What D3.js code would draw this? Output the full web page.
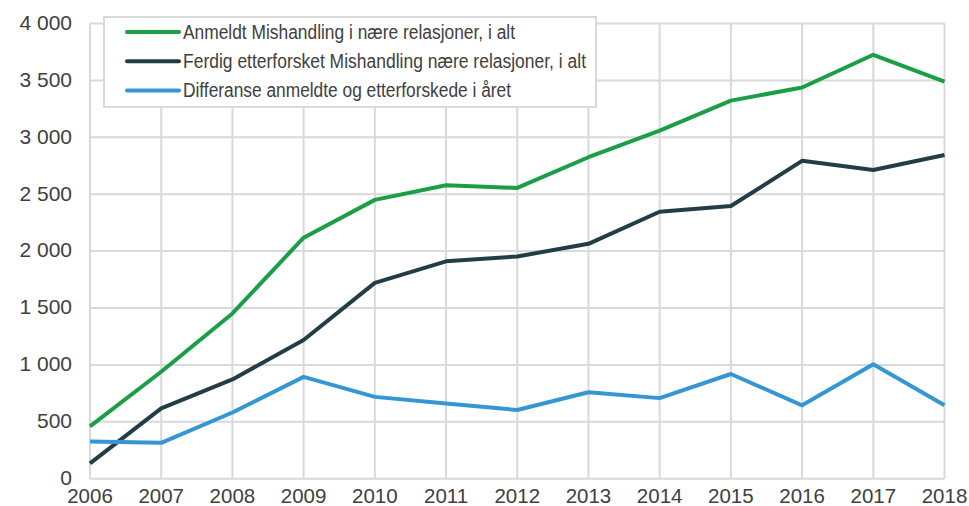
<!DOCTYPE html>
<html>
<head>
  <meta charset="utf-8">
  <title>Mishandling i nære relasjoner</title>
  <style type="text/css">
    body { margin: 0; background: #fff; }
    svg { display: block; font-family: "Liberation Sans", Arial, sans-serif; }
    .grid line { stroke: #d9d9d9; stroke-width: 2px; }
    .tick-label { fill: #404040; font-size: 21px; }
    .tick-label.xl { font-size: 20.5px; }
    .legend text { fill: #404040; font-size: 19.5px; }
  </style>
  <script src="https://cdn.jsdelivr.net/npm/d3@7"></script>
</head>
<body>
  <script>
    var years = [2006, 2007, 2008, 2009, 2010, 2011, 2012, 2013, 2014, 2015, 2016, 2017, 2018];
    var anmeldt = [460, 940, 1452, 2118, 2450, 2578, 2555, 2825, 3058, 3322, 3438, 3725, 3490];
    var etterforsket = [135, 618, 872, 1219, 1721, 1910, 1953, 2064, 2346, 2396, 2793, 2712, 2844];
    var differanse = [326, 315, 582, 895, 719, 660, 604, 760, 708, 920, 645, 1005, 645];
    var yTicks = [0, 500, 1000, 1500, 2000, 2500, 3000, 3500, 4000];
    var seriesNames = [
      'Anmeldt Mishandling i nære relasjoner, i alt',
      'Ferdig etterforsket Mishandling nære relasjoner, i alt',
      'Differanse anmeldte og etterforskede i året'
    ];
    var colors = ['#1b9e46', '#243d44', '#3596d4'];
    // tekstbredder målt i originalen
    var legendWidths = [332, 403, 328];

    var W = 969, H = 506;
    var x = d3.scaleLinear().domain([2006, 2018]).range([90, 944.5]);
    var y = d3.scaleLinear().domain([0, 4000]).range([478.7, 23.5]);

    var svg = d3.select('body').append('svg')
      .attr('width', W).attr('height', H);

    // rutenett
    var grid = svg.append('g').classed('grid', true);
    grid.selectAll('line.h').data(yTicks).enter().append('line')
      .attr('x1', x.range()[0]).attr('x2', x.range()[1])
      .attr('y1', d => y(d)).attr('y2', d => y(d));
    grid.selectAll('line.v').data(years).enter().append('line')
      .attr('x1', d => x(d)).attr('x2', d => x(d))
      .attr('y1', y(0)).attr('y2', y(4000));

    // aksetekster
    var fmt = d => d3.format(',')(d).replace(',', ' ');
    svg.selectAll('text.yl').data(yTicks).enter().append('text')
      .attr('class', 'tick-label yl')
      .attr('x', 72).attr('y', d => y(d) - 1)
      .attr('dy', '0.35em')
      .attr('text-anchor', 'end')
      .text(fmt);
    svg.selectAll('text.xl').data(years).enter().append('text')
      .attr('class', 'tick-label xl')
      .attr('x', d => x(d)).attr('y', 503)
      .attr('text-anchor', 'middle')
      .text(d => d);

    // linjer
    var line = d3.line().x((d, i) => x(years[i])).y(d => y(d));
    [anmeldt, etterforsket, differanse].forEach(function (s, i) {
      svg.append('path')
        .attr('d', line(s))
        .attr('fill', 'none')
        .attr('stroke', colors[i])
        .attr('stroke-width', 4)
        .attr('stroke-linejoin', 'round');
    });

    // forklaring
    var legend = svg.append('g').classed('legend', true);
    legend.append('rect')
      .attr('x', 104).attr('y', 17).attr('width', 492).attr('height', 90)
      .attr('fill', '#fff').attr('stroke', '#d9d9d9').attr('stroke-width', 2);
    seriesNames.forEach(function (name, i) {
      var ly = 32 + i * 29.3;
      legend.append('line')
        .attr('x1', 127).attr('x2', 179).attr('y1', ly).attr('y2', ly)
        .attr('stroke', colors[i]).attr('stroke-width', 4).attr('stroke-linecap', 'round');
      legend.append('text')
        .attr('x', 183).attr('y', ly).attr('dy', '0.35em')
        .attr('textLength', legendWidths[i])
        .attr('lengthAdjust', 'spacingAndGlyphs')
        .text(name);
    });
  </script>
</body>
</html>
